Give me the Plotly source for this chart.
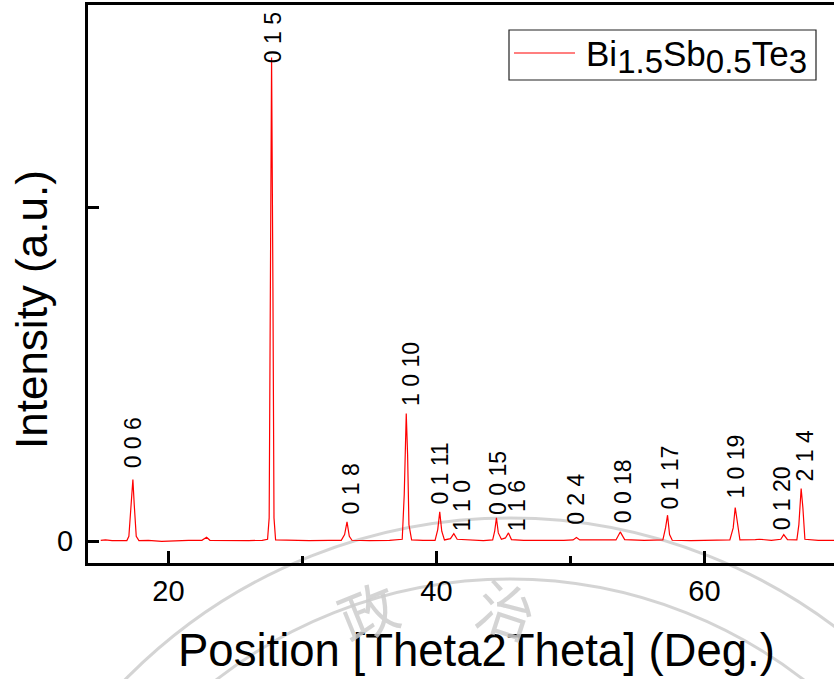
import plotly.graph_objects as go

# XRD pattern of Bi1.5Sb0.5Te3 (2-theta in degrees, intensity in counts)
two_theta = [
    14.95, 15.3, 15.8, 16.3, 16.9, 17.05, 17.2, 17.35, 17.45, 17.6, 17.8,
    18.5, 19.5, 20.5, 21.5, 22.5, 22.85, 23.1, 24.0, 25.0, 26.0, 27.0,
    27.4, 27.52, 27.6, 27.7, 27.8, 27.88, 28.0, 29.0, 30.5, 32.0, 32.9,
    33.15, 33.33, 33.5, 33.7, 35.0, 36.5, 37.45, 37.6, 37.75, 37.85, 37.95,
    38.15, 39.0, 39.9, 40.1, 40.25, 40.4, 40.6, 41.05, 41.3, 41.55, 42.5,
    43.5, 44.2, 44.35, 44.48, 44.62, 44.85, 45.15, 45.38, 45.6, 46.5, 48.0,
    49.5, 50.2, 50.45, 50.7, 52.0, 53.4, 53.72, 54.05, 55.5, 56.9, 57.1,
    57.25, 57.4, 57.6, 59.0, 60.5, 61.9, 62.15, 62.3, 62.45, 62.65, 63.8,
    64.1, 65.0, 65.7, 65.92, 66.2, 66.9, 67.05, 67.22, 67.35, 67.5, 68.5,
    69.7,
]
intensity = [
    30, 40, 20, 30, 20, 150, 1000, 1850, 1100, 150, 20,
    30, 0, 20, 30, 30, 120, 30, 20, 30, 20, 30,
    60, 700, 7600, 14480, 7600, 700, 40, 30, 20, 30, 30,
    200, 580, 150, 30, 20, 30, 60, 1400, 3820, 2600, 500,
    40, 30, 30, 350, 880, 300, 40, 80, 230, 60, 30,
    20, 40, 300, 700, 250, 60, 100, 250, 50, 30, 20,
    30, 40, 110, 40, 30, 40, 280, 50, 30, 40, 400,
    780, 200, 30, 20, 30, 40, 400, 1010, 600, 40, 50,
    60, 30, 60, 200, 50, 40, 500, 1580, 1000, 60, 30,
    30,
]

# Miller indices and the (2-theta, intensity) point each label starts from
hkl_labels = ["0 0 6", "0 1 5", "0 1 8", "1 0 10", "0 1 11", "1 1 0", "0 0 15",
              "1 1 6", "0 2 4", "0 0 18", "0 1 17", "1 0 19", "0 1 20", "2 1 4"]
hkl_theta = [17.34, 27.78, 33.63, 38.1, 40.25, 41.87, 44.6,
             45.97, 50.45, 53.93, 57.41, 62.39, 65.75, 67.49]
hkl_level = [2130, 14250, 730, 3990, 1030, 240, 730,
             240, 430, 480, 880, 1230, 280, 1740]

x_ticks = [20, 40, 60]
y_ticks = [0, 10000]
y_tick_text = ["0", ""]

FIG_W, FIG_H = 834, 679
L, R, T, B = 88, 0, 5, 116
PW = FIG_W - L - R
PH = FIG_H - T - B


def px(x):
    return (x - L) / PW


def py(y):
    return (FIG_H - B - y) / PH


FONT = "Arial, 'Liberation Sans', sans-serif"
SEAL = "rgba(205,205,205,0.85)"


def sub(s):
    return "<sub><span style='font-size:33px'>%s</span></sub>" % s


legend_name = "Bi" + sub("1.5") + "Sb" + sub("0.5") + "Te" + sub("3")

fig = go.Figure()
fig.add_trace(go.Scatter(
    x=two_theta, y=intensity, mode="lines",
    line=dict(color="#ff0000", width=1.2),
    name=legend_name,
    showlegend=False,
))

annotations = []
for lab, xt, yl in zip(hkl_labels, hkl_theta, hkl_level):
    annotations.append(dict(
        x=xt, y=yl, xref="x", yref="y", text=lab, textangle=-90,
        showarrow=False, xanchor="center", yanchor="bottom",
        font=dict(family=FONT, size=23, color="black"),
    ))

# axis titles
annotations.append(dict(
    x=px(476), y=py(650), xref="paper", yref="paper",
    text="Position [Theta2Theta] (Deg.)", showarrow=False,
    xanchor="center", yanchor="middle",
    font=dict(family=FONT, size=45.5, color="black"),
))
annotations.append(dict(
    x=px(31), y=py(310), xref="paper", yref="paper",
    text="Intensity (a.u.)", textangle=-90, showarrow=False,
    xanchor="center", yanchor="middle",
    font=dict(family=FONT, size=44, color="black"),
))

# legend text
annotations.append(dict(
    x=px(584), y=py(57), xref="paper", yref="paper",
    text=legend_name, showarrow=False,
    xanchor="left", yanchor="middle",
    font=dict(family=FONT, size=35, color="black"),
))

# faint seal characters in the background
annotations.append(dict(
    x=px(367), y=py(662), xref="paper", yref="paper", text="政",
    textangle=-22, showarrow=False,
    font=dict(family="Noto Sans CJK SC", size=58, color=SEAL),
))
annotations.append(dict(
    x=px(507), y=py(659), xref="paper", yref="paper", text="治",
    textangle=18, showarrow=False,
    font=dict(family="Noto Sans CJK SC", size=58, color=SEAL),
))

shapes = [
    # legend frame and sample line
    dict(type="rect", xref="paper", yref="paper",
         x0=px(509), x1=px(816), y0=py(80), y1=py(30),
         line=dict(color="#222222", width=1.2), fillcolor="white"),
    dict(type="line", xref="paper", yref="paper",
         x0=px(514), x1=px(575), y0=py(53), y1=py(53),
         line=dict(color="#ff0000", width=1.2)),
]
# seal rings
for r, w in [(539, 3), (478, 3)]:
    cx, cy = 510, 1057
    shapes.append(dict(
        type="circle", xref="paper", yref="paper", layer="below",
        x0=px(cx - r), x1=px(cx + r), y0=py(cy + r), y1=py(cy - r),
        line=dict(color=SEAL, width=w),
    ))

fig.update_layout(
    width=FIG_W, height=FIG_H, autosize=False,
    margin=dict(l=L, r=R, t=T, b=B, pad=0),
    paper_bgcolor="white", plot_bgcolor="rgba(0,0,0,0)",
    font=dict(family=FONT, color="black"),
    showlegend=False,
    annotations=annotations, shapes=shapes,
    xaxis=dict(
        range=[14, 14 + PW / 13.4], tickvals=x_ticks,
        showline=True, linecolor="black", linewidth=3, mirror=True,
        ticks="inside", ticklen=12, tickwidth=3, tickcolor="black",
        minor=dict(dtick=10, tick0=0, ticks="inside", ticklen=7,
                   tickwidth=3, tickcolor="black"),
        showgrid=False, zeroline=False,
        tickfont=dict(family=FONT, size=29, color="black"),
        ticklabelstandoff=0,
    ),
    yaxis=dict(
        range=[-650, 16048], tickvals=y_ticks, ticktext=y_tick_text,
        showline=True, linecolor="black", linewidth=3, mirror=False,
        ticks="inside", ticklen=11, tickwidth=3, tickcolor="black",
        showgrid=False, zeroline=False,
        tickfont=dict(family=FONT, size=29, color="black"),
        ticklabelstandoff=6,
    ),
)

fig.write_html("out.html")
